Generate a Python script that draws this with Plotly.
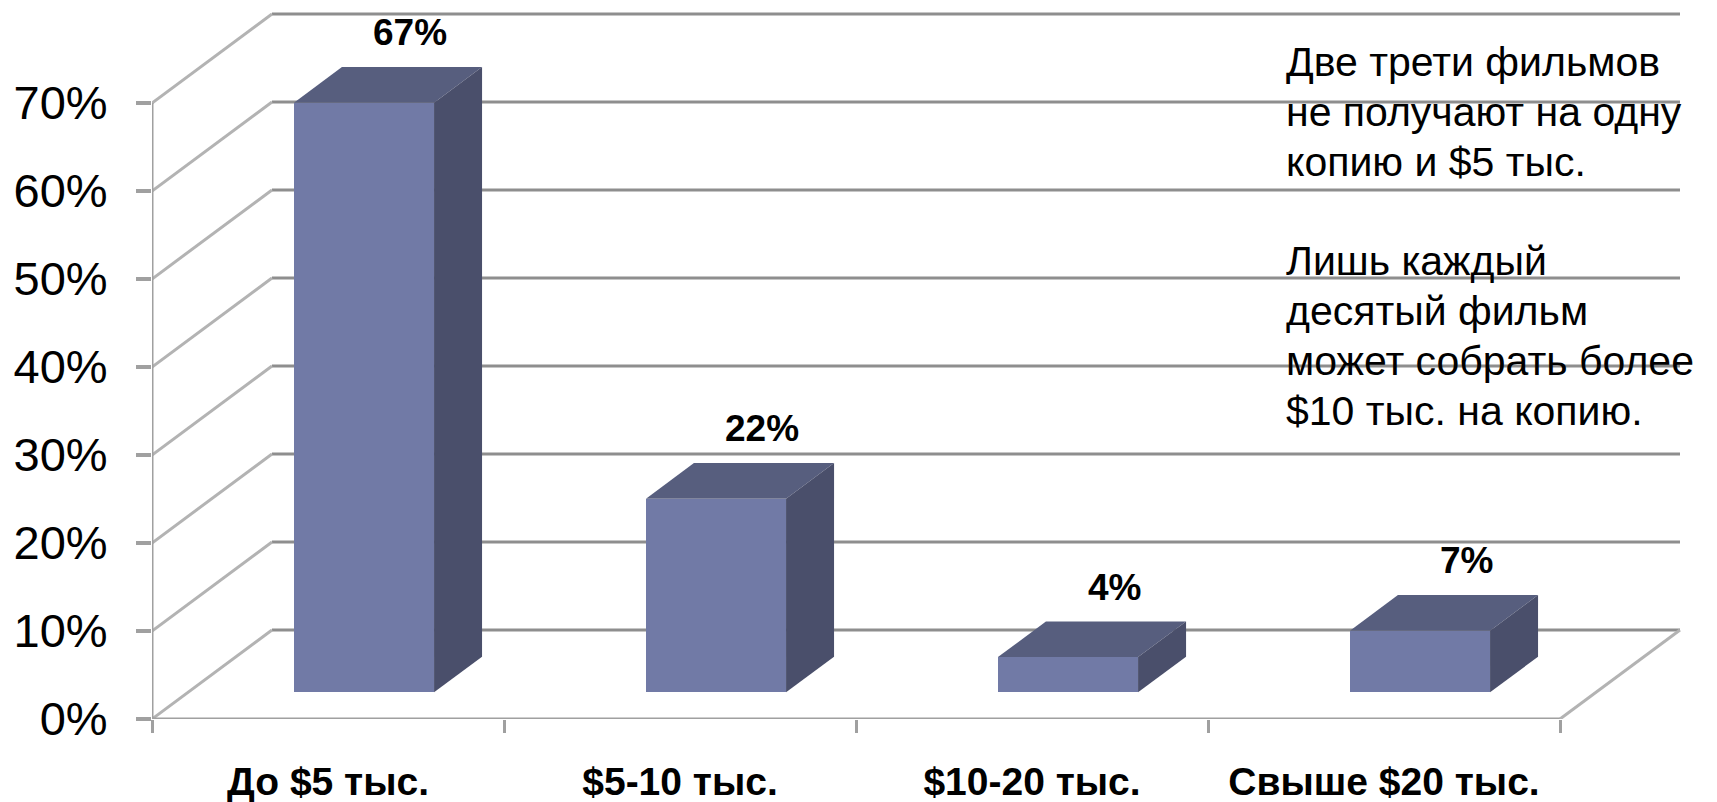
import plotly.graph_objects as go

# ---------------- data ----------------
categories = ["До $5 тыс.", "$5-10 тыс.", "$10-20 тыс.", "Свыше $20 тыс."]
values = [67, 22, 4, 7]
value_labels = ["67%", "22%", "4%", "7%"]
y_ticks = [0, 10, 20, 30, 40, 50, 60, 70]
y_tick_labels = ["0%", "10%", "20%", "30%", "40%", "50%", "60%", "70%"]
note_lines = [
    "Две трети фильмов",
    "не получают на одну",
    "копию и $5 тыс.",
    "",
    "Лишь каждый",
    "десятый фильм",
    "может собрать более",
    "$10 тыс. на копию.",
]

# ---------------- geometry / style ----------------
W, H = 1717, 802
ML, MB = 152, 83
PX_CAT = 352.0          # pixels per category on the front plane
PX_PCT = 8.8            # pixels per percentage point
DEPTH_DX = 120.0        # pixel shift of the back wall
DEPTH_DY = 89.0
Z0, Z1 = 0.30, 0.70     # bar depth span
BAR_W = 0.398           # bar width in category units

NOTE_LEFT_PX = 1284
NOTE_FIRST_PX = 62
NOTE_STEP_PX = 49.8

FONT = "Liberation Sans, Arial, sans-serif"
C_FRONT, C_TOP, C_SIDE = "#717AA6", "#575E7E", "#4A4F6B"
C_GRID, C_DIAG, C_AXIS = "#8E8E8E", "#B3B3B3", "#A0A0A0"


def ddx(z):
    return z * DEPTH_DX / PX_CAT


def ddy(z):
    return z * DEPTH_DY / PX_PCT


n = len(categories)
x_lo, x_hi = -0.5, n - 0.5
x_range = [x_lo, x_lo + (W - ML) / PX_CAT]
y_range = [0, (H - MB) / PX_PCT]
PLOT_H = H - MB

fig = go.Figure()

# ---- walls, floor, grid (below traces) ----
shapes = []
for t in y_ticks:
    # back wall grid line
    shapes.append(dict(type="line", layer="below", xref="x", yref="y",
                       x0=x_lo + ddx(1), x1=x_hi + ddx(1),
                       y0=t + ddy(1), y1=t + ddy(1),
                       line=dict(color=C_GRID, width=3)))
    # side wall diagonal
    shapes.append(dict(type="line", layer="below", xref="x", yref="y",
                       x0=x_lo, x1=x_lo + ddx(1), y0=t, y1=t + ddy(1),
                       line=dict(color=C_DIAG, width=3)))
# front vertical axis
shapes.append(dict(type="line", layer="below", xref="x", yref="y",
                   x0=x_lo, x1=x_lo, y0=0, y1=max(y_ticks),
                   line=dict(color=C_AXIS, width=3)))
# floor front edge
shapes.append(dict(type="line", layer="below", xref="x", yref="y",
                   x0=x_lo, x1=x_hi, y0=0, y1=0,
                   line=dict(color=C_AXIS, width=3)))
# floor right edge
shapes.append(dict(type="line", layer="below", xref="x", yref="y",
                   x0=x_hi, x1=x_hi + ddx(1), y0=0, y1=ddy(1),
                   line=dict(color=C_DIAG, width=3)))

# ---- bar front faces ----
fig.add_trace(go.Bar(
    x=[i + ddx(Z0) for i in range(n)],
    y=values,
    base=ddy(Z0),
    width=BAR_W,
    marker=dict(color=C_FRONT, line=dict(width=0)),
    hoverinfo="skip",
    showlegend=False,
))

# ---- bar top and side faces ----
for i, v in enumerate(values):
    xl, xr = i - BAR_W / 2, i + BAR_W / 2
    top_x = [xl + ddx(Z0), xr + ddx(Z0), xr + ddx(Z1), xl + ddx(Z1), xl + ddx(Z0)]
    top_y = [v + ddy(Z0), v + ddy(Z0), v + ddy(Z1), v + ddy(Z1), v + ddy(Z0)]
    fig.add_trace(go.Scatter(x=top_x, y=top_y, mode="lines", fill="toself",
                             fillcolor=C_TOP, line=dict(width=0, color=C_TOP),
                             hoverinfo="skip", showlegend=False))
    side_x = [xr + ddx(Z0), xr + ddx(Z1), xr + ddx(Z1), xr + ddx(Z0), xr + ddx(Z0)]
    side_y = [ddy(Z0), ddy(Z1), v + ddy(Z1), v + ddy(Z0), ddy(Z0)]
    fig.add_trace(go.Scatter(x=side_x, y=side_y, mode="lines", fill="toself",
                             fillcolor=C_SIDE, line=dict(width=0, color=C_SIDE),
                             hoverinfo="skip", showlegend=False))

# ---- value labels ----
annotations = []
for i, (v, lab) in enumerate(zip(values, value_labels)):
    annotations.append(dict(
        x=i + ddx(0.5), y=v + ddy(0.5), xref="x", yref="y",
        text="<b>%s</b>" % lab, showarrow=False,
        xshift=22, yshift=52,
        font=dict(family=FONT, size=37, color="black"),
    ))

# ---- commentary (one annotation per line) ----
for k, line in enumerate(note_lines):
    if not line:
        continue
    cy = NOTE_FIRST_PX + k * NOTE_STEP_PX
    annotations.append(dict(
        x=(NOTE_LEFT_PX - ML) / (W - ML), y=(PLOT_H - cy) / PLOT_H,
        xref="paper", yref="paper", xanchor="left", yanchor="middle",
        align="left", showarrow=False, text=line,
        font=dict(family=FONT, size=41, color="black"),
    ))

fig.update_layout(
    width=W, height=H,
    margin=dict(l=ML, r=0, t=0, b=MB, autoexpand=False),
    paper_bgcolor="white", plot_bgcolor="white",
    shapes=shapes, annotations=annotations,
    bargap=0,
    xaxis=dict(
        range=x_range, showgrid=False, zeroline=False, showline=False,
        tickmode="array", tickvals=list(range(n)), ticktext=categories,
        ticks="", ticklabelstandoff=36,
        tickfont=dict(family=FONT, size=39, color="black", weight="bold"),
        minor=dict(tickmode="array", tickvals=[x_lo + k for k in range(n + 1)],
                   ticks="outside", ticklen=13, tickwidth=3, tickcolor=C_AXIS,
                   showgrid=False),
        fixedrange=True,
    ),
    yaxis=dict(
        range=y_range, showgrid=False, zeroline=False, showline=False,
        tickmode="array", tickvals=y_ticks, ticktext=y_tick_labels,
        ticks="outside", ticklen=15, tickwidth=4, tickcolor=C_AXIS,
        ticklabelstandoff=19,
        tickfont=dict(family=FONT, size=47, color="black"),
        fixedrange=True,
    ),
)

fig.write_html("out.html", config={"displayModeBar": False})
